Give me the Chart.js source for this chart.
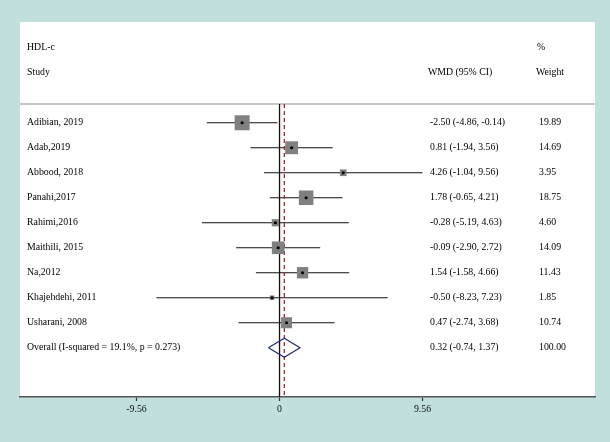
<!DOCTYPE html>
<html>
<head>
<meta charset="utf-8">
<script src="https://cdn.jsdelivr.net/npm/chart.js@4/dist/chart.umd.min.js"></script>
<style>
  html, body { margin: 0; padding: 0; background: #c0dfdd; }
  #wrap { width: 610px; height: 442px; }
</style>
</head>
<body>
<div id="wrap"><canvas id="c" width="610" height="442"></canvas></div>
<script>
// ---- data ----
const studies = ["Adibian, 2019", "Adab,2019", "Abbood, 2018", "Panahi,2017", "Rahimi,2016",
                 "Maithili, 2015", "Na,2012", "Khajehdehi, 2011", "Usharani, 2008"];
const wmd     = [-2.50, 0.81, 4.26, 1.78, -0.28, -0.09, 1.54, -0.50, 0.47];
const ciLow   = [-4.86, -1.94, -1.04, -0.65, -5.19, -2.90, -1.58, -8.23, -2.74];
const ciHigh  = [-0.14, 3.56, 9.56, 4.21, 4.63, 2.72, 4.66, 7.23, 3.68];
const weights = [19.89, 14.69, 3.95, 18.75, 4.60, 14.09, 11.43, 1.85, 10.74];
const overallLabel = "Overall (I-squared = 19.1%, p = 0.273)";
const overall = { est: 0.32, lo: -0.74, hi: 1.37, weight: 100.00 };
const tickValues = [-9.56, 0, 9.56];
const tickLabels = ["-9.56", "0", "9.56"];
const headerTitle = "HDL-c";
const headerStudy = "Study";
const headerEffect = "WMD (95% CI)";
const headerPct = "%";
const headerWeight = "Weight";

// ---- helpers ----
const fmt = v => v.toFixed(2);
const overallRow = studies.length;
const yTop = -4.03, yBottom = 10.97, sepRow = -0.75;
const FONT = '9.8px "Liberation Serif", "Times New Roman", serif';

const datasets = [];
// CI lines
studies.forEach((s, i) => {
  datasets.push({
    type: 'line', label: 'ci' + i,
    data: [{ x: ciLow[i], y: i }, { x: ciHigh[i], y: i }],
    borderColor: '#111', borderWidth: 1.2, pointRadius: 0, fill: false, order: 6
  });
});
// reference lines
datasets.push({
  type: 'line', label: 'zero',
  data: [{ x: 0, y: sepRow }, { x: 0, y: yBottom }],
  borderColor: '#111', borderWidth: 1.3, pointRadius: 0, order: 7
});
datasets.push({
  type: 'line', label: 'pooled',
  data: [{ x: overall.est, y: sepRow }, { x: overall.est, y: yBottom }],
  borderColor: '#b0202a', borderWidth: 1.3, borderDash: [4, 3], pointRadius: 0, order: 5
});
// weight squares
datasets.push({
  type: 'scatter', label: 'squares',
  data: studies.map((s, i) => ({ x: wmd[i], y: i, w: weights[i] })),
  pointStyle: 'rect',
  pointRadius: ctx => (3.36 * Math.sqrt(ctx.raw.w)) / Math.SQRT2,
  backgroundColor: '#808080', borderColor: '#808080', borderWidth: 0, order: 3
});
// centre dots
datasets.push({
  type: 'scatter', label: 'dots',
  data: studies.map((s, i) => ({ x: wmd[i], y: i })),
  pointRadius: 1.6, backgroundColor: '#000', borderColor: '#000', borderWidth: 0, order: 1
});
// overall diamond
const dh = 0.38;
datasets.push({
  type: 'line', label: 'diamond',
  data: [
    { x: overall.lo, y: overallRow }, { x: overall.est, y: overallRow - dh },
    { x: overall.hi, y: overallRow }, { x: overall.est, y: overallRow + dh },
    { x: overall.lo, y: overallRow }
  ],
  borderColor: '#1f2a7a', borderWidth: 1.2, pointRadius: 0, fill: false, tension: 0, order: 2
});

const panelPlugin = {
  id: 'panel',
  beforeDraw(chart) {
    const { ctx, chartArea: a, scales } = chart;
    ctx.save();
    ctx.fillStyle = '#ffffff';
    ctx.fillRect(a.left, a.top, a.right - a.left, a.bottom - a.top);
    const ys = scales.y.getPixelForValue(sepRow);
    ctx.strokeStyle = '#c8c8c8';
    ctx.lineWidth = 2;
    ctx.beginPath();
    ctx.moveTo(a.left, ys);
    ctx.lineTo(a.right, ys);
    ctx.stroke();
    ctx.restore();
  },
  afterDraw(chart) {
    const { ctx, chartArea: a, scales } = chart;
    const y = scales.y;
    const xName = a.left + 7, xEff = a.left + 410, xW = a.left + 519;
    ctx.save();
    ctx.font = FONT;
    ctx.fillStyle = '#000';
    ctx.textBaseline = 'middle';
    ctx.textAlign = 'left';
    ctx.fillText(headerTitle, xName, y.getPixelForValue(-3));
    ctx.fillText(headerStudy, xName, y.getPixelForValue(-2));
    ctx.fillText(headerEffect, xEff - 2, y.getPixelForValue(-2));
    ctx.fillText(headerPct, xW - 2, y.getPixelForValue(-3));
    ctx.fillText(headerWeight, xW - 3, y.getPixelForValue(-2));
    studies.forEach((s, i) => {
      const py = y.getPixelForValue(i);
      ctx.fillText(s, xName, py);
      ctx.fillText(fmt(wmd[i]) + ' (' + fmt(ciLow[i]) + ', ' + fmt(ciHigh[i]) + ')', xEff, py);
      ctx.fillText(fmt(weights[i]), xW, py);
    });
    const po = y.getPixelForValue(overallRow);
    ctx.fillText(overallLabel, xName, po);
    ctx.fillText(fmt(overall.est) + ' (' + fmt(overall.lo) + ', ' + fmt(overall.hi) + ')', xEff, po);
    ctx.fillText(fmt(overall.weight), xW, po);
    ctx.restore();
  }
};

new Chart(document.getElementById('c'), {
  data: { datasets },
  options: {
    responsive: false,
    devicePixelRatio: 1,
    animation: false,
    layout: { padding: { left: 20, right: 15, top: 22, bottom: 0 } },
    plugins: { legend: { display: false }, tooltip: { enabled: false } },
    scales: {
      x: {
        type: 'linear', min: -17.35, max: 21.09,
        afterBuildTicks: s => { s.ticks = tickValues.map(v => ({ value: v })); },
        afterFit: s => { s.height = 45; },
        ticks: {
          autoSkip: false, maxRotation: 0, padding: 3, color: '#111',
          font: { family: '"Liberation Serif", serif', size: 9.8 },
          callback: v => { const k = tickValues.indexOf(v); return k >= 0 ? tickLabels[k] : ''; }
        },
        grid: { drawOnChartArea: false, drawTicks: true, tickLength: 4, tickColor: '#333', tickWidth: 1.2 },
        border: { display: true, color: '#555', width: 1.6 }
      },
      y: {
        type: 'linear', min: yTop, max: yBottom, reverse: true, display: false
      }
    }
  },
  plugins: [panelPlugin]
});
</script>
</body>
</html>
